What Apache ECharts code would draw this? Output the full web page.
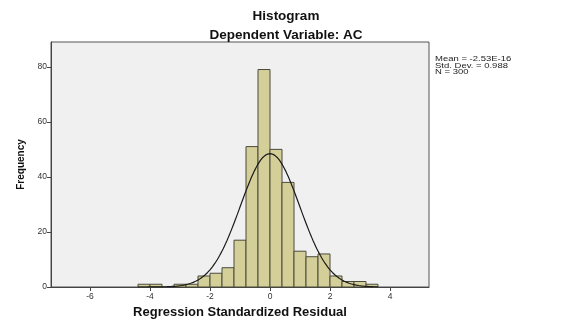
<!DOCTYPE html>
<html>
<head>
<meta charset="utf-8">
<title>Histogram</title>
<script src="https://cdn.jsdelivr.net/npm/echarts@6/dist/echarts.min.js"></script>
<style>
  html, body { margin: 0; padding: 0; background: #ffffff; }
  #chart { width: 572px; height: 325px; }
</style>
</head>
<body>
<div id="chart"></div>
<script>
// Histogram of regression standardized residuals (bins of width 0.4)
const binLow = [-4.4, -4.0, -3.6, -3.2, -2.8, -2.4, -2.0, -1.6, -1.2, -0.8,
                -0.4, 0.0, 0.4, 0.8, 1.2, 1.6, 2.0, 2.4, 2.8, 3.2];
const frequency = [1, 1, 0, 1, 1, 4, 5, 7, 17, 51,
                   79, 50, 38, 13, 11, 12, 4, 2, 2, 1];
const binWidth = 0.4;

// Summary statistics shown beside the plot
const residualMean = -2.53e-16;
const residualSD = 0.988;
const sampleN = 300;
const statLines = ['Mean = -2.53E-16', 'Std. Dev. = 0.988', 'N = 300'];

// Axis ticks
const xTicks = [-6, -4, -2, 0, 2, 4];
const yTicks = [0, 20, 40, 60, 80];

const barData = binLow
  .map((lo, i) => [lo, lo + binWidth, frequency[i]])
  .filter(d => d[2] > 0);

// Normal curve with the sample mean / SD, scaled to counts per bin
const curveData = [];
const scale = sampleN * binWidth / (residualSD * Math.sqrt(2 * Math.PI));
const xStart = binLow[0];
const xEnd = binLow[binLow.length - 1] + binWidth;
const steps = 200;
for (let k = 0; k <= steps; k++) {
  const x = xStart + (xEnd - xStart) * k / steps;
  const z = (x - residualMean) / residualSD;
  curveData.push([x, scale * Math.exp(-0.5 * z * z)]);
}

const chart = echarts.init(document.getElementById('chart'), null, { renderer: 'canvas' });

const fontFamily = 'Liberation Sans, Arial, sans-serif';
const axisText = { color: '#333333', fontFamily: fontFamily, fontSize: 8.5 };

chart.setOption({
  animation: false,
  backgroundColor: '#ffffff',
  title: [
    {
      text: 'Histogram', left: 'center', top: 4,
      textStyle: { fontFamily: fontFamily, fontSize: 13.5, fontWeight: 'bold', color: '#111111' }
    },
    {
      text: 'Dependent Variable: AC', left: 'center', top: 23,
      textStyle: { fontFamily: fontFamily, fontSize: 13.5, fontWeight: 'bold', color: '#111111' }
    }
  ],
  grid: {
    left: 51, right: 143, top: 42, bottom: 38,
    show: true, backgroundColor: '#f0f0f0', borderColor: '#555555', borderWidth: 1
  },
  xAxis: {
    type: 'value', min: -7.3, max: 5.3,
    name: 'Regression Standardized Residual',
    nameLocation: 'middle', nameGap: 17,
    nameTextStyle: { fontFamily: fontFamily, fontSize: 13, fontWeight: 'bold', color: '#111111' },
    axisLine: { show: true, onZero: false, lineStyle: { color: '#444444', width: 1 } },
    axisTick: { show: true, length: 4, customValues: xTicks, lineStyle: { color: '#444444' } },
    axisLabel: Object.assign({ margin: 5, customValues: xTicks }, axisText),
    splitLine: { show: false }
  },
  yAxis: {
    type: 'value', min: 0, max: 89,
    name: 'Frequency',
    nameLocation: 'middle', nameGap: 25, nameRotate: 90,
    nameTextStyle: { fontFamily: fontFamily, fontSize: 10, fontWeight: 'bold', color: '#111111' },
    axisLine: { show: true, onZero: false, lineStyle: { color: '#444444', width: 1 } },
    axisTick: { show: true, length: 4, customValues: yTicks, lineStyle: { color: '#444444' } },
    axisLabel: Object.assign({ margin: 4, customValues: yTicks }, axisText),
    splitLine: { show: false }
  },
  series: [
    {
      type: 'custom',
      data: barData,
      encode: { x: [0, 1], y: 2 },
      renderItem: function (params, api) {
        const p0 = api.coord([api.value(0), api.value(2)]);
        const p1 = api.coord([api.value(1), 0]);
        return {
          type: 'rect',
          shape: { x: p0[0], y: p0[1], width: p1[0] - p0[0], height: p1[1] - p0[1] },
          style: { fill: '#d4cf98', stroke: '#4a4a3c', lineWidth: 1 }
        };
      },
      z: 2
    },
    {
      type: 'line',
      data: curveData,
      showSymbol: false,
      smooth: false,
      lineStyle: { color: '#1a1a1a', width: 1.2 },
      z: 3
    }
  ],
  graphic: [
    {
      type: 'group', left: 435, top: 56, scaleY: 0.7,
      children: statLines.map((t, i) => ({
        type: 'text', x: 0, y: i * 9,
        style: { text: t, fill: '#222222', font: '9.5px "Liberation Sans", Arial, sans-serif' }
      }))
    }
  ]
});
</script>
</body>
</html>
